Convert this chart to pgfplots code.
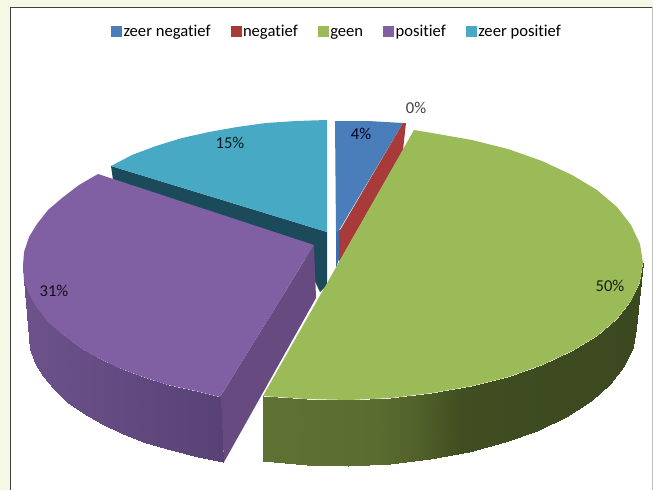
\documentclass[border=0pt]{standalone}
\usepackage{fontspec}
\setmainfont{Carlito}[Ligatures=NoCommon]
\usepackage{pgfplots}
\pgfplotsset{compat=1.18}

\definecolor{cream}{RGB}{244,248,228}
\definecolor{cBlue}{RGB}{74,126,187}
\definecolor{cBlueSide}{RGB}{60,110,170}
\definecolor{cRed}{RGB}{168,58,58}
\definecolor{cGreen}{RGB}{155,187,89}
\definecolor{cPurple}{RGB}{128,96,162}
\definecolor{cPurpleSide}{RGB}{102,74,128}
\definecolor{cTeal}{RGB}{72,169,196}
\definecolor{cTealSide}{RGB}{27,74,90}

\pgfplotsset{
  face/.style={draw=none, fill=#1, forget plot, no markers},
  wall/.style={surf, shader=interp, forget plot, mesh/rows=2, point meta=x, point meta rel=per plot},
}
\tikzset{pie label/.style={font=\fontsize{16.6}{18}\selectfont, inner sep=0pt}}

\begin{document}
\begin{tikzpicture}
\begin{axis}[
  scale only axis, width=653pt, height=490pt,
  xmin=0, xmax=653, ymin=0, ymax=490, y dir=reverse,
  hide axis, clip=true,
  legend columns=5,
  legend cell align=left,
  legend style={
    at={(axis cs:337,31.5)}, anchor=center, draw=none, fill=none,
    font=\fontsize{16.6}{18}\selectfont, inner sep=0pt,
    /tikz/every even column/.append style={column sep=18pt},
  },
  legend image code/.code={\fill[#1] (0pt,-5pt) rectangle (10pt,5pt);},
]
\addlegendimage{cBlue}\addlegendentry{zeer negatief}
\addlegendimage{cRed}\addlegendentry{negatief}
\addlegendimage{cGreen}\addlegendentry{\vphantom{f}geen}
\addlegendimage{cPurple}\addlegendentry{positief}
\addlegendimage{cTeal}\addlegendentry{zeer positief}

% page and panel
\addplot[face=cream] coordinates {(0,0)(653,0)(653,490)(0,490)};
\addplot[face=white] coordinates {(11,7)(652,7)(652,490)(11,490)};
\addplot[draw=black!75, line width=1pt, forget plot, no markers] coordinates {(10.5,490)(10.5,7)(652,7)};
\addplot[draw=black!25, line width=1pt, forget plot, no markers] coordinates {(652,7)(652,490)};

% zeer positief: radial wall, then top
\addplot[face=cTealSide] coordinates {(111,166)(327,232)(327,285)(320,292)(300,250)(113,180)};
\addplot[face=cTeal] coordinates {
  (327,120)(296,121)(266,123)(237,127)(209,132)(182,138)(156,146)(132,155)(111,166)(327,232)};

% zeer negatief and negatief
\addplot[face=cBlueSide] coordinates {(336,230)(342,230)(342,250)(336,268)};
\addplot[face=cBlue] coordinates {(335,121)(368,121)(403,123)(338,232)(336,232)};
\addplot[face=cRed] coordinates {(403,123)(406,123)(403,150)(339,262)(339,232)};

% positief: walls, then top
\addplot[face=cPurpleSide] coordinates {(220,397)(314,245)(316,298)(224,462)};
\addplot[wall, mesh/cols=13,
  colormap={purplewall}{rgb255(0cm)=(109,82,140); rgb255(1cm)=(88,66,116)}]
  table {
  x y
  23 266
  24 280
  29 294
  37 308
  48 322
  62 334
  79 347
  98 358
  119 368
  143 377
  168 385
  196 391
  220 397
  29 335
  30 349
  35 363
  43 376
  54 389
  67 402
  83 413
  102 424
  123 434
  146 443
  171 450
  198 457
  223 462
};
\addplot[face=cPurple] coordinates {
  (98,174)(79,185)(62,198)(48,210)(37,224)(29,237)(24,252)(23,266)(24,280)(29,294)
  (37,308)(48,322)(62,334)(79,347)(98,358)(119,368)(143,377)(168,385)(196,391)(220,397)
  (314,245)};

% geen: outer wall, then top
\addplot[wall, mesh/cols=14,
  colormap={greenwall}{rgb255(0cm)=(95,114,52); rgb255(0.3cm)=(90,108,48); rgb255(0.4cm)=(82,98,42);
    rgb255(0.52cm)=(64,78,33); rgb255(1cm)=(60,72,32)}]
  table {
  x y
  643 263
  640 282
  631 301
  617 319
  597 336
  572 351
  542 365
  508 377
  472 386
  432 393
  391 398
  349 400
  306 399
  263 396
  636 328
  633 347
  624 366
  610 384
  591 401
  566 417
  537 431
  505 442
  469 452
  430 459
  390 464
  348 466
  307 465
  263 461
};
\addplot[face=cGreen] coordinates {
  (414,130)(432,133)(472,140)(508,149)(542,161)(572,175)(597,190)(617,207)(631,225)(640,244)
  (643,263)(640,282)(631,301)(617,319)(597,336)(572,351)(542,365)(508,377)(472,386)(432,393)
  (391,398)(349,400)(306,399)(263,396)};

% share labels
\node[pie label, text=black!75] at (axis cs:416,108) {0\%};
\node[pie label, text=black!85!blue] at (axis cs:361,134) {4\%};
\node[pie label, text=black!85!cTeal] at (axis cs:230,143) {15\%};
\node[pie label, text=black!85!cPurple] at (axis cs:54,291) {31\%};
\node[pie label, text=black!85!cGreen] at (axis cs:610,286) {50\%};
\end{axis}
\end{tikzpicture}
\end{document}
